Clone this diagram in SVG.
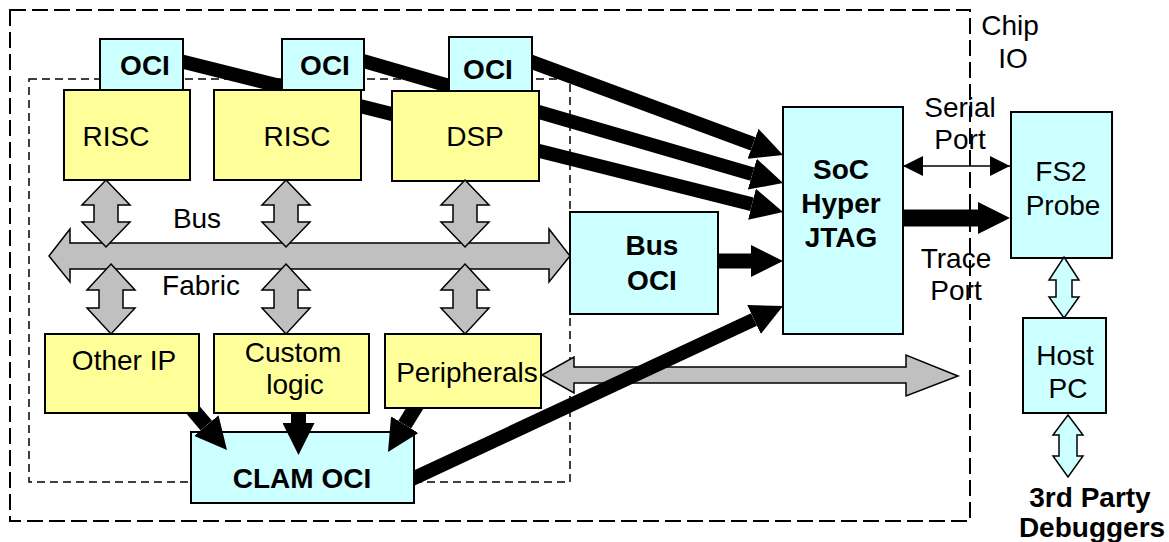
<svg xmlns="http://www.w3.org/2000/svg" width="1169" height="542" viewBox="0 0 1169 542">
<style>
.y{fill:#FFFF99;stroke:#000;stroke-width:2}
.c{fill:#CCFFFF;stroke:#000;stroke-width:2}
.g{fill:#C0C0C0;stroke:#000;stroke-width:1.5;stroke-linejoin:miter}
.gc{fill:#CCFFFF;stroke:#000;stroke-width:1.5}
.t{font-family:"Liberation Sans",Arial,sans-serif;font-size:28px;fill:#000;text-anchor:middle}
.b{font-weight:bold}
.k{stroke:#000;fill:none}
.d1{fill:none;stroke:#000;stroke-width:2;stroke-dasharray:16 6}
.d2{fill:none;stroke:#000;stroke-width:1.5;stroke-dasharray:8 5}
</style>
<defs>
<marker id="ah" viewBox="0 -16 32 32" refX="0" refY="0" markerWidth="32" markerHeight="32" markerUnits="userSpaceOnUse" orient="auto"><path d="M0,-16 L32,0 L0,16 z" fill="#000"/></marker>
<marker id="sh" viewBox="0 -10 20 20" refX="20" refY="0" markerWidth="20" markerHeight="20" markerUnits="userSpaceOnUse" orient="auto-start-reverse"><path d="M0,-10 L20,0 L0,10 z" fill="#000"/></marker>
<mask id="mA" maskUnits="userSpaceOnUse" x="0" y="0" width="1169" height="542">
<rect x="0" y="0" width="1169" height="542" fill="#fff"/>
<rect x="100" y="39" width="83" height="51" fill="#000"/>
<rect x="282" y="39" width="82" height="51" fill="#000"/>
<rect x="449" y="37" width="83" height="54" fill="#000"/>
<rect x="64" y="90" width="126" height="90" fill="#000"/>
<rect x="214" y="90" width="147" height="90" fill="#000"/>
<rect x="392" y="91" width="147" height="90" fill="#000"/>
<rect x="45" y="334" width="154" height="79" fill="#000"/>
<rect x="214" y="334" width="155" height="79" fill="#000"/>
<rect x="385" y="334" width="156" height="74" fill="#000"/>
</mask>
<mask id="mB" maskUnits="userSpaceOnUse" x="0" y="0" width="1169" height="542">
<rect x="0" y="0" width="1169" height="542" fill="#fff"/>
<rect x="191" y="432" width="223" height="71" fill="#000"/>
</mask>
</defs>
<rect width="1169" height="542" fill="#fff"/>

<g id="chip-boundary">
<rect class="d1" x="10" y="10" width="960" height="511"/>
<rect class="d2" x="29" y="79" width="541" height="403"/>
<text class="t" x="1010" y="35">Chip</text>
<text class="t" x="1013" y="68">IO</text>
</g>

<g id="oci1"><rect class="c" x="100" y="39" width="83" height="51"/><text class="t b" x="145" y="75">OCI</text></g>
<g id="oci2"><rect class="c" x="282" y="39" width="82" height="51"/><text class="t b" x="325" y="75">OCI</text></g>
<g id="oci3"><rect class="c" x="449" y="37" width="83" height="54"/><text class="t b" x="488" y="79">OCI</text></g>
<g id="risc1"><rect class="y" x="64" y="90" width="126" height="90"/><text class="t" x="116" y="146">RISC</text></g>
<g id="risc2"><rect class="y" x="214" y="90" width="147" height="90"/><text class="t" x="297" y="146">RISC</text></g>
<g id="dsp"><rect class="y" x="392" y="91" width="147" height="90"/><text class="t" x="475" y="146">DSP</text></g>
<g id="bus-oci"><rect class="c" x="570" y="212" width="148" height="102"/><text class="t b" x="652" y="255">Bus</text><text class="t b" x="652" y="290">OCI</text></g>
<g id="jtag"><rect class="c" x="783" y="107" width="120" height="227"/><text class="t b" x="841" y="179">SoC</text><text class="t b" x="841" y="213">Hyper</text><text class="t b" x="841" y="247">JTAG</text></g>
<g id="fs2"><rect class="c" x="1011" y="112" width="101" height="146"/><text class="t" x="1061" y="181">FS2</text><text class="t" x="1063" y="215">Probe</text></g>
<g id="host"><rect class="c" x="1023" y="318" width="83" height="95"/><text class="t" x="1065" y="365">Host</text><text class="t" x="1068" y="398">PC</text></g>
<g id="debuggers"><text class="t b" x="1090" y="507">3rd Party</text><text class="t b" x="1092" y="537">Debuggers</text></g>
<g id="other-ip"><rect class="y" x="45" y="334" width="154" height="79"/><text class="t" x="124" y="370">Other IP</text></g>
<g id="custom"><rect class="y" x="214" y="334" width="155" height="79"/><text class="t" x="293" y="362">Custom</text><text class="t" x="295" y="394">logic</text></g>
<g id="peripherals"><rect class="y" x="385" y="334" width="156" height="74"/><text class="t" x="467" y="382">Peripherals</text></g>
<g id="clam"><rect class="c" x="191" y="432" width="223" height="71"/><text class="t b" x="302" y="488">CLAM OCI</text></g>

<g id="connectors">
<polygon id="bus-fabric" class="g" points="49,256 70,229 70,243 549,243 549,229 570,256 549,282 549,269 70,269 70,282"/>
<text class="t" x="197" y="228">Bus</text>
<text class="t" x="201" y="295">Fabric</text>
<polygon class="g" points="106,180 130,205 118,205 118,222 130,222 106,247 82,222 94,222 94,205 82,205"/>
<polygon class="g" points="286,180 310,205 298,205 298,222 310,222 286,247 262,222 274,222 274,205 262,205"/>
<polygon class="g" points="465,180 489,205 477,205 477,222 489,222 465,247 441,222 453,222 453,205 441,205"/>
<polygon class="g" points="111,264 135,290 123,290 123,308 135,308 111,334 87,308 99,308 99,290 87,290"/>
<polygon class="g" points="286,264 310,290 298,290 298,308 310,308 286,334 262,308 274,308 274,290 262,290"/>
<polygon class="g" points="465,264 489,290 477,290 477,308 489,308 465,334 441,308 453,308 453,290 441,290"/>
<polygon class="g" points="542,375 574,357 574,367 906,367 906,355 958,376 906,396 906,383 574,383 574,393"/>
<polygon class="gc" points="1064,257 1079,280 1072,280 1072,297 1079,297 1064,318 1049,297 1056,297 1056,280 1049,280"/>
<polygon class="gc" points="1068,415 1083,435 1077,435 1077,456 1083,456 1068,477 1053,456 1059,456 1059,435 1053,435"/>
<g mask="url(#mA)">
<line class="k" x1="520" y1="57.6" x2="753" y2="143.9" stroke-width="14" marker-end="url(#ah)"/>
<line class="k" x1="350" y1="57.1" x2="752.3" y2="174.1" stroke-width="14" marker-end="url(#ah)"/>
<line class="k" x1="170" y1="58.5" x2="752" y2="204.2" stroke-width="14" marker-end="url(#ah)"/>
<line class="k" x1="188" y1="404" x2="206.3" y2="425.6" stroke-width="15" marker-end="url(#ah)"/>
<line class="k" x1="298.5" y1="405" x2="298.5" y2="423" stroke-width="15" marker-end="url(#ah)"/>
<line class="k" x1="418" y1="403" x2="404.7" y2="424.7" stroke-width="15" marker-end="url(#ah)"/>
</g>
<line class="k" x1="400" y1="484.7" x2="754" y2="319.5" stroke-width="14" marker-end="url(#ah)" mask="url(#mB)"/>
<line class="k" x1="718" y1="261" x2="751" y2="261" stroke-width="15" marker-end="url(#ah)"/>
<line class="k" x1="903" y1="218" x2="978" y2="218" stroke-width="17" marker-end="url(#ah)"/>
<line class="k" x1="903" y1="166" x2="1010" y2="166" stroke-width="1.5" marker-start="url(#sh)" marker-end="url(#sh)"/>
<text class="t" x="960" y="117">Serial</text>
<text class="t" x="960" y="149">Port</text>
<text class="t" x="956" y="268">Trace</text>
<text class="t" x="956" y="300">Port</text>
</g>
</svg>
